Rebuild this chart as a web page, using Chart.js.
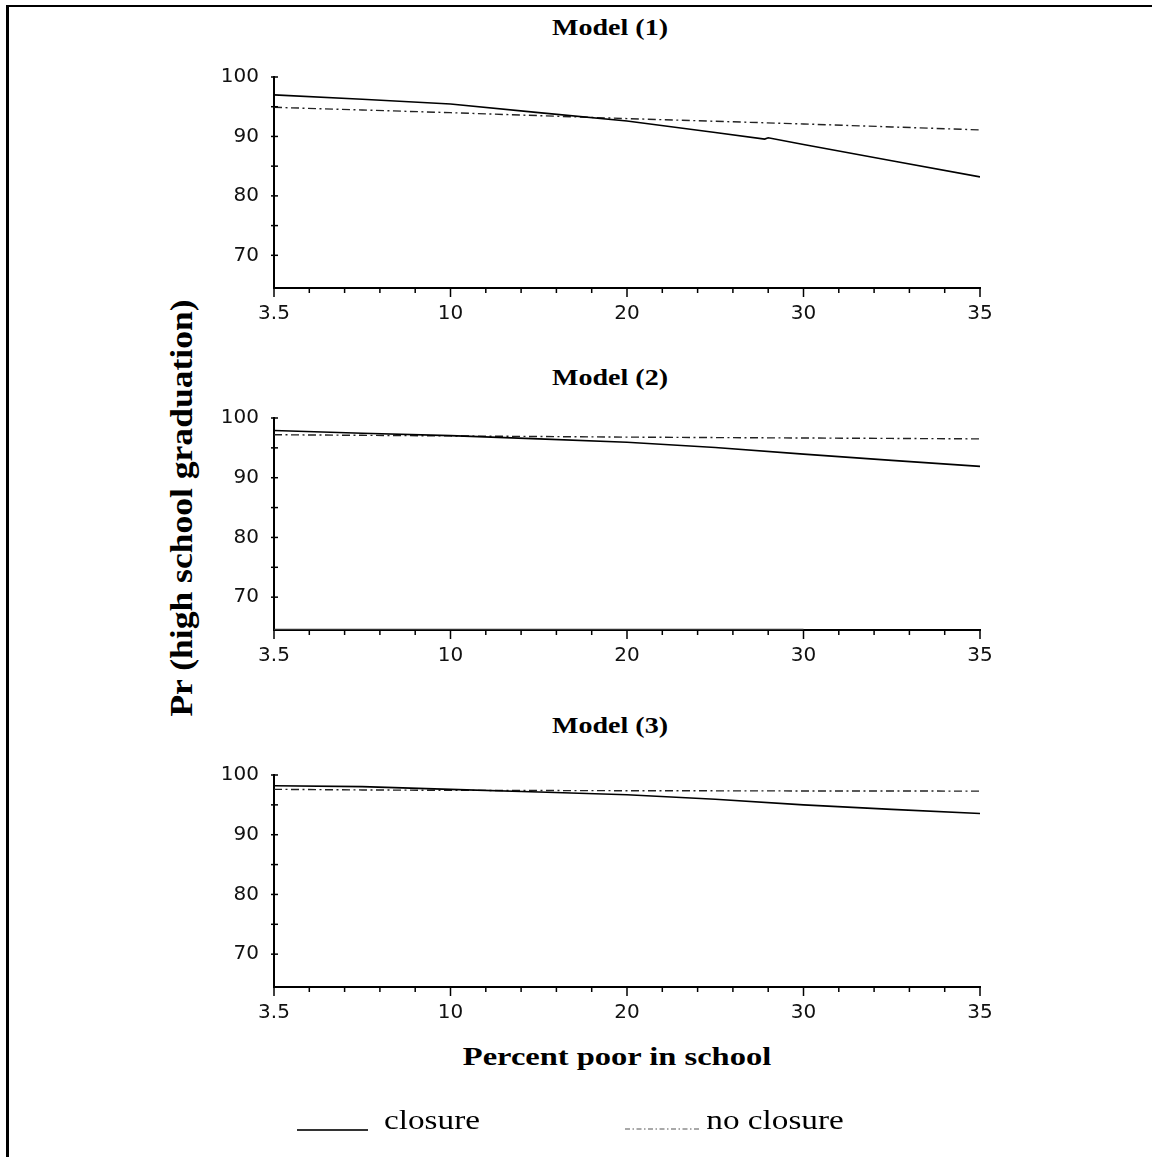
<!DOCTYPE html>
<html><head><meta charset="utf-8">
<script src="https://cdn.jsdelivr.net/npm/chart.js@4.4.1/dist/chart.umd.min.js"></script>
<style>
html,body{margin:0;padding:0;background:#fff;}
body{width:1152px;height:1157px;position:relative;overflow:hidden;font-family:"Liberation Serif","Times New Roman",serif;}
.frame{position:absolute;left:6px;top:5px;width:1170px;height:1180px;border-left:3px solid #000;border-top:2px solid #000;}
.panel{position:absolute;left:200px;width:810px;}
.txt{position:absolute;white-space:nowrap;line-height:1;color:#000;}
.b{font-weight:bold;}
</style></head><body>
<div class="frame"></div>
<div class="panel" style="top:50px;height:278px"><canvas id="c1" width="810" height="278"></canvas></div>
<div class="panel" style="top:391px;height:279px"><canvas id="c2" width="810" height="279"></canvas></div>
<div class="panel" style="top:748px;height:279px"><canvas id="c3" width="810" height="279"></canvas></div>

<div class="txt b" style="left:610px;top:27px;font-size:23px;transform:translate(-50%,-50%) scale(1.22,1)">Model (1)</div>
<div class="txt b" style="left:610px;top:377px;font-size:23px;transform:translate(-50%,-50%) scale(1.22,1)">Model (2)</div>
<div class="txt b" style="left:610px;top:725px;font-size:23px;transform:translate(-50%,-50%) scale(1.22,1)">Model (3)</div>
<div class="txt b" style="left:617px;top:1057px;font-size:26px;transform:translate(-50%,-50%) scale(1.25,1)">Percent poor in school</div>
<div class="txt b" style="left:182px;top:508px;font-size:28px;transform:translate(-50%,-50%) rotate(-90deg) scale(1.27,1.15)">Pr (high school graduation)</div>

<svg style="position:absolute;left:0;top:0" width="1152" height="1157">
  <line x1="297" y1="1130" x2="368" y2="1130" stroke="#333" stroke-width="2"/>
  <line x1="625" y1="1129" x2="700" y2="1129" stroke="#555" stroke-width="1.2" stroke-dasharray="5,2.5,1.5,2.5"/>
</svg>
<div class="txt" style="left:432px;top:1120px;font-size:27px;transform:translate(-50%,-50%) scale(1.23,1)">closure</div>
<div class="txt" style="left:775px;top:1120px;font-size:27px;transform:translate(-50%,-50%) scale(1.23,1)">no closure</div>

<script>
// ---- data (x positions are in tick-interval units along the percent-poor axis) ----
const tickLabels = ['3.5', '10', '20', '30', '35'];
const xPos = [0, 0.5, 1, 1.5, 2, 2.5, 3, 3.5, 4];
const yTickValues = [70, 80, 90, 100];
const yMinorValues = [75, 85, 95];
const yMin = 64.5, yMax = 100;

const m1ClosureX = [0, 0.5, 1, 1.5, 2, 2.5, 2.78, 2.8, 3, 3.5, 4];
const m1Closure = [97.0, 96.25, 95.45, 94.0, 92.6, 90.65, 89.55, 89.77, 88.63, 85.9, 83.2];
const m1NoClosure = [94.9, 94.45, 94.0, 93.5, 93.0, 92.55, 92.1, 91.6, 91.1];

const m2Closure = [97.9, 97.45, 97.05, 96.5, 95.95, 95.05, 93.95, 92.9, 91.9];
const m2NoClosure = [97.2, 97.1, 97.0, 96.9, 96.8, 96.72, 96.65, 96.58, 96.5];
const m2BaseX = [0, 3];
const m2Base = [64.6, 64.6];

const m3Closure = [98.2, 98.05, 97.6, 97.15, 96.7, 95.95, 95.0, 94.25, 93.55];
const m3NoClosure = [97.6, 97.5, 97.43, 97.4, 97.37, 97.35, 97.33, 97.32, 97.3];

const minorPerMajor = 5;

function pts(xs, ys) { return xs.map((x, i) => ({ x: x, y: ys[i] })); }

const tickPlugin = {
  id: 'customTicks',
  afterDraw(chart) {
    const ctx = chart.ctx, x = chart.scales.x, y = chart.scales.y;
    ctx.save();
    ctx.strokeStyle = '#000';
    ctx.lineWidth = 1.5;
    const ay = y.getPixelForValue(yMin);
    const nMaj = tickLabels.length - 1;
    for (let i = 0; i <= nMaj * minorPerMajor; i++) {
      const v = i / minorPerMajor;
      const px = x.getPixelForValue(v);
      const major = i % minorPerMajor === 0;
      ctx.beginPath();
      ctx.moveTo(px, ay);
      ctx.lineTo(px, ay + (major ? 9 : 5));
      ctx.stroke();
    }
    const ax = x.getPixelForValue(0);
    yTickValues.concat(yMinorValues).forEach(v => {
      const py = y.getPixelForValue(v);
      ctx.beginPath();
      ctx.moveTo(ax - 3, py);
      ctx.lineTo(ax + 4, py);
      ctx.stroke();
    });
    ctx.restore();
  }
};

const solid = { borderColor: '#000', borderWidth: 1.6, pointRadius: 0, tension: 0, fill: false };
const dashdot = { borderColor: '#222', borderWidth: 1.4, borderDash: [8, 3.5, 2, 3.5], pointRadius: 0, tension: 0, fill: false };
const tickFont = { family: 'DejaVu Sans', size: 20 };

function makeChart(id, datasets) {
  new Chart(document.getElementById(id), {
    type: 'line',
    data: { datasets: datasets },
    plugins: [tickPlugin],
    options: {
      responsive: false,
      animation: false,
      devicePixelRatio: 1,
      layout: { padding: { top: 27, right: 30, left: 0, bottom: 0 } },
      plugins: { legend: { display: false }, tooltip: { enabled: false }, title: { display: false } },
      scales: {
        x: {
          type: 'linear', min: 0, max: tickLabels.length - 1,
          afterBuildTicks: s => { s.ticks = tickLabels.map((_, i) => ({ value: i })); },
          afterFit: s => { s.height = 40; },
          ticks: { callback: (v, i) => tickLabels[i], font: tickFont, color: '#111', padding: 6, maxRotation: 0, autoSkip: false },
          grid: { display: false },
          border: { display: true, color: '#000', width: 2 }
        },
        y: {
          type: 'linear', min: yMin, max: yMax,
          afterBuildTicks: s => { s.ticks = yTickValues.map(v => ({ value: v })); },
          afterFit: s => { s.width = 74; },
          ticks: { font: tickFont, color: '#111', padding: 7 },
          grid: { display: false },
          border: { display: true, color: '#000', width: 2 }
        }
      }
    }
  });
}

makeChart('c1', [
  Object.assign({ label: 'closure', data: pts(m1ClosureX, m1Closure) }, solid),
  Object.assign({ label: 'no closure', data: pts(xPos, m1NoClosure) }, dashdot)
]);
makeChart('c2', [
  Object.assign({ label: 'closure', data: pts(xPos, m2Closure) }, solid),
  Object.assign({ label: 'no closure', data: pts(xPos, m2NoClosure) }, dashdot),
  Object.assign({ label: 'base', data: pts(m2BaseX, m2Base), clip: false }, solid, { borderWidth: 1.2, borderColor: '#333' })
]);
makeChart('c3', [
  Object.assign({ label: 'closure', data: pts(xPos, m3Closure) }, solid),
  Object.assign({ label: 'no closure', data: pts(xPos, m3NoClosure) }, dashdot)
]);
</script>
</body></html>
